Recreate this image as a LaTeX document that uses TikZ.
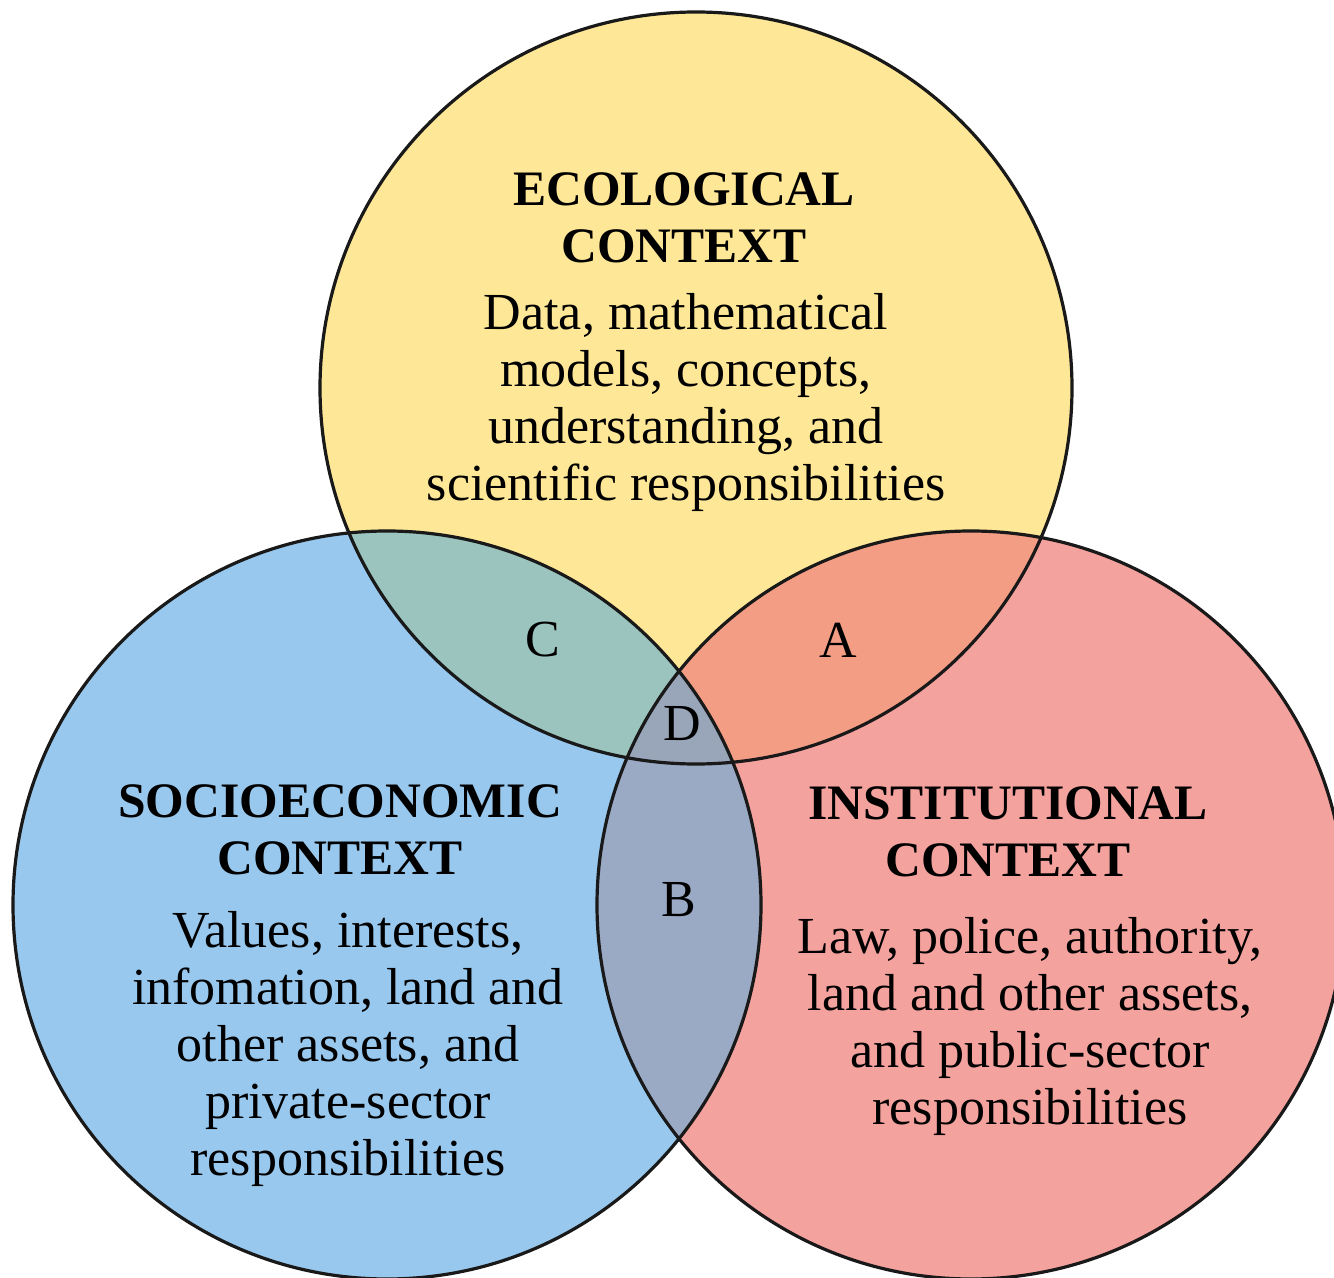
\documentclass[tikz,border=0pt]{standalone}
\usepackage{fontspec}
\setmainfont{Liberation Serif}
\definecolor{ecoYellow}{HTML}{FEE796}
\definecolor{socBlue}{HTML}{98C8ED}
\definecolor{instPink}{HTML}{F4A29E}
\definecolor{regC}{HTML}{9BC4BE}
\definecolor{regA}{HTML}{F39D84}
\definecolor{regB}{HTML}{9BAAC4}
\definecolor{regD}{HTML}{99A6BA}
\tikzset{
  ring/.style={draw=black!90, line width=1.6pt},
  title/.style={align=center, font=\fontsize{24.8}{28.5}\selectfont\bfseries},
  body/.style={align=center, font=\fontsize{26}{28.5}\selectfont},
  region/.style={font=\fontsize{26}{28.5}\selectfont}
}
\newcommand{\ecoCircle}{(696,388) circle (376)}
\newcommand{\socCircle}{(387,905) circle (374)}
\newcommand{\instCircle}{(971,905) circle (374)}
\begin{document}
\begin{tikzpicture}[x=0.5pt, y=-0.5pt]
  \useasboundingbox (0,0) rectangle (1334,1278);
  \clip (0,0) rectangle (1334,1278);
  \fill[white] (0,0) rectangle (1334,1278);
  % base fills
  \fill[ecoYellow] \ecoCircle;
  \fill[socBlue] \socCircle;
  \fill[instPink] \instCircle;
  % pairwise overlaps
  \begin{scope}
    \clip \ecoCircle;
    \fill[regC] \socCircle;
    \fill[regA] \instCircle;
  \end{scope}
  \begin{scope}
    \clip \socCircle;
    \fill[regB] \instCircle;
  \end{scope}
  % triple overlap
  \begin{scope}
    \clip \ecoCircle;
    \clip \socCircle;
    \fill[regD] \instCircle;
  \end{scope}
  % outlines
  \draw[ring] \ecoCircle;
  \draw[ring] \socCircle;
  \draw[ring] \instCircle;
  % circle texts
  \node[title] (ecoT) at (684,218) {ECOLOGICAL\\CONTEXT};
  \node[body] (ecoB) at (686,402) {Data, mathematical\\models, concepts,\\understanding, and\\scientific responsibilities};
  \node[title] (socT) at (340,830) {SOCIOECONOMIC\\CONTEXT};
  \node[body] (socB) at (348,1049) {Values, interests,\\infomation, land and\\other assets, and\\private-sector\\responsibilities};
  \node[title] (instT) at (1008,832) {INSTITUTIONAL\\CONTEXT};
  \node[body] (instB) at (1030,1026) {Law, police, authority,\\land and other assets,\\and public-sector\\responsibilities};
  % overlap labels
  \node[region] (lC) at (543,640) {C};
  \node[region] (lA) at (838,640) {A};
  \node[region] (lD) at (682,724) {D};
  \node[region] (lB) at (679,900) {B};
\end{tikzpicture}
\end{document}
